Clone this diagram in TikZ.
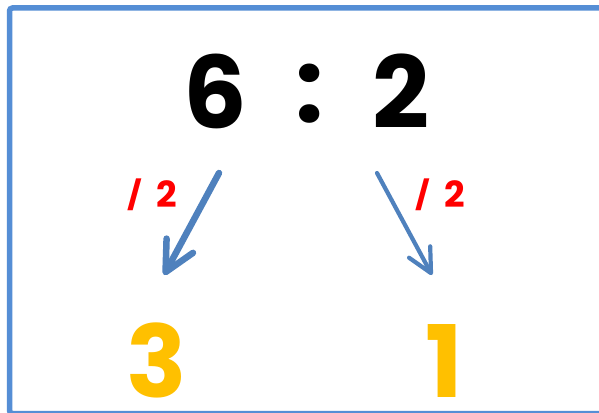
\documentclass[tikz,border=0pt]{standalone}
\usepackage{fontspec}
\setmainfont{Poppins}[BoldFont={* Bold}]
\usetikzlibrary{arrows.meta}
\definecolor{frameblue}{RGB}{85,142,213}
\definecolor{arrowblue}{RGB}{79,129,189}
\definecolor{gold}{RGB}{255,192,0}
\definecolor{redlabel}{RGB}{255,0,0}
\newcommand{\divtext}{\raisebox{0.05em}{\scalebox{0.9}[0.78]{/}}\hspace{0.4em}2}
\tikzset{
  bignum/.style={anchor=base, inner sep=0pt, font=\fontsize{100}{100}\selectfont\bfseries},
  resnum/.style={bignum, text=gold},
  divlabel/.style={anchor=base, inner sep=0pt, text=redlabel, font=\fontsize{36}{36}\selectfont\bfseries},
  divarrow/.style={draw=arrowblue, line cap=round, line join=round},
}
\begin{document}
\begin{tikzpicture}[x=1pt,y=-1pt]
\useasboundingbox (0,0) rectangle (599,412);
\fill[white] (0,0) rectangle (599,412);
\begin{scope}
\clip (0,0) rectangle (599,412);
\draw[frameblue, line width=5.5pt, rounded corners=3pt] (9.5,8) rectangle (610,413.5);
\end{scope}
\node[bignum] (six) at (215,128) {6};
\node[bignum] (colon) at (310,122) {:};
\node[bignum] (two) at (401,128) {2};
\node[divlabel] (lbl1) at (152,207) {\divtext};
\node[divlabel] (lbl2) at (440,207) {\divtext};
\node[resnum] (three) at (157,397) {3};
\node[resnum] (one) at (444,397) {1};
\coordinate (a1s) at (219,173);
\coordinate (a1e) at (164,275);
\coordinate (a2s) at (377,173);
\coordinate (a2e) at (432,275);
\draw[divarrow, line width=6.5pt, -{Straight Barb[length=30pt,width=30pt,line join=round,line cap=round]}] (a1s) -- (a1e);
\draw[divarrow, line width=4.2pt, -{Straight Barb[length=24pt,width=24pt,line join=round,line cap=round]}] (a2s) -- (a2e);
\end{tikzpicture}
\end{document}
